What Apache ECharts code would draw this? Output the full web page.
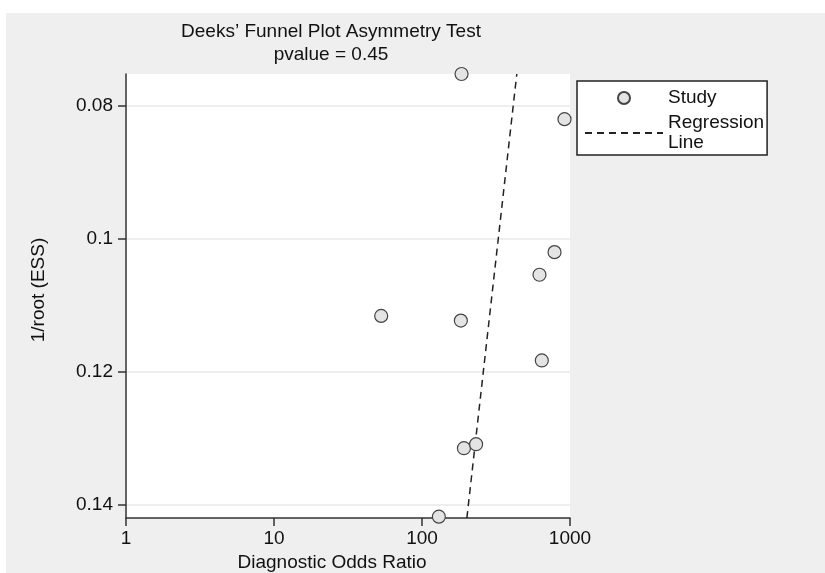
<!DOCTYPE html>
<html>
<head>
<meta charset="utf-8">
<script src="https://cdn.jsdelivr.net/npm/echarts@6/dist/echarts.min.js"></script>
<style>
html,body{margin:0;padding:0;background:#fff;}
#chart{width:825px;height:573px;}
</style>
</head>
<body>
<div id="chart"></div>
<script>
// Study points: diagnostic odds ratio and 1/root(ESS)
const studyDOR = [185, 918, 786, 622, 53, 183, 645, 192, 232, 130];
const studyInvRootESS = [0.0752, 0.0820, 0.1020, 0.1054, 0.1116, 0.1123, 0.1183, 0.1315, 0.1309, 0.1418];
// Regression line end points
const regDOR = [201, 437];
const regInvRootESS = [0.1420, 0.0752];
// Axis ticks
const xTicks = [1, 10, 100, 1000];
const yTicks = [0.08, 0.1, 0.12, 0.14];
const yMin = 0.0752, yMax = 0.142;

const FONT = 'Liberation Sans, Arial, sans-serif';
const chart = echarts.init(document.getElementById('chart'), null, {renderer: 'canvas'});
chart.setOption({
  backgroundColor: '#ffffff',
  animation: false,
  textStyle: {fontFamily: FONT, color: '#111'},
  graphic: [{
    type: 'rect', z: -10, silent: true,
    shape: {x: 6, y: 13, width: 819, height: 560},
    style: {fill: '#efefef'}
  }],
  title: {
    text: "Deeks’ Funnel Plot Asymmetry Test\npvalue = 0.45",
    left: 326, top: 15, textAlign: 'center',
    textStyle: {fontFamily: FONT, fontSize: 19, fontWeight: 'normal', color: '#111', lineHeight: 23}
  },
  legend: {
    orient: 'vertical', left: 577, top: 81,
    padding: [7, 3, 2, 7],
    itemWidth: 78, itemHeight: 12, itemGap: 5,
    backgroundColor: '#fff', borderColor: '#222', borderWidth: 1.5,
    textStyle: {fontFamily: FONT, fontSize: 19, color: '#111', lineHeight: 20},
    data: [
      {name: 'Study'},
      {name: 'Regression\nLine', itemStyle: {opacity: 0}}
    ]
  },
  grid: {
    left: 126, right: 255, top: 74, bottom: 55,
    outerBoundsMode: 'none', containLabel: false,
    show: true, backgroundColor: '#fff', borderWidth: 0
  },
  xAxis: {
    type: 'log', logBase: 10, min: 1, max: 1000,
    name: 'Diagnostic Odds Ratio', nameLocation: 'middle', nameGap: 33,
    nameTextStyle: {fontFamily: FONT, fontSize: 19, color: '#111', padding: [0, 32, 0, 0]},
    axisLine: {show: true, lineStyle: {color: '#333', width: 1.5}},
    axisTick: {show: true, length: 8, lineStyle: {color: '#333', width: 1.5}, customValues: xTicks},
    axisLabel: {fontFamily: FONT, fontSize: 19, color: '#111', margin: 11, customValues: xTicks,
      formatter: v => String(v)},
    minorTick: {show: false},
    splitLine: {show: false}
  },
  yAxis: {
    type: 'value', inverse: true, min: yMin, max: yMax,
    name: '1/root (ESS)', nameLocation: 'middle', nameGap: 78, nameRotate: 90,
    nameTextStyle: {fontFamily: FONT, fontSize: 19, color: '#111', padding: [0, 0, 0, 12]},
    axisLine: {show: true, lineStyle: {color: '#333', width: 1.5}},
    axisTick: {show: true, length: 8, lineStyle: {color: '#333', width: 1.5}, customValues: yTicks},
    axisLabel: {fontFamily: FONT, fontSize: 19, color: '#111', margin: 13, customValues: yTicks,
      formatter: v => String(+v.toFixed(3))},
    splitLine: {show: true, lineStyle: {color: '#e8e8e8', width: 1.5}}
  },
  series: [
    {
      name: 'Study', type: 'scatter', symbol: 'circle', symbolSize: 13,
      itemStyle: {color: '#e4e4e4', borderColor: '#444', borderWidth: 1.2, opacity: 1},
      data: studyDOR.map((d, i) => [d, studyInvRootESS[i]]),
      z: 3
    },
    {
      name: 'Regression\nLine', type: 'line', showSymbol: false, symbol: 'none',
      lineStyle: {color: '#222', width: 1.5, type: [7, 5]},
      itemStyle: {color: '#222'},
      data: regDOR.map((d, i) => [d, regInvRootESS[i]]),
      z: 2
    }
  ]
});
</script>
</body>
</html>
